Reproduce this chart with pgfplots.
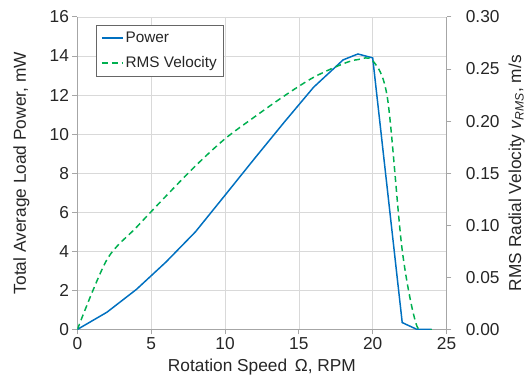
\documentclass[border=0pt]{standalone}
\usepackage{pgfplots}
\pgfplotsset{compat=1.18}
\usepackage{fontspec}
\setmainfont{Liberation Sans}
\definecolor{pblue}{HTML}{0070C0}
\definecolor{vgreen}{HTML}{00B050}
\definecolor{gridc}{HTML}{D9D9D9}
\definecolor{axc}{HTML}{A6A6A6}
\definecolor{txt}{HTML}{262626}
\begin{document}
\begin{tikzpicture}
\pgfplotsset{
  common/.style={
    width=372bp, height=315bp, scale only axis,
    xmin=0, xmax=25,
    font=\fontsize{17.5}{20}\selectfont,
    tick label style={text=txt},
    label style={text=txt},
    /pgf/number format/assume math mode=true,
    tick align=outside,
    major tick length=5bp,
    tick style={axc, line width=0.8pt},
  }
}
\begin{axis}[common,
  axis x line*=bottom, axis y line*=left,
  axis line style={axc, line width=0.8pt, -},
  ymin=0, ymax=16,
  ytick={0,2,...,16}, xtick={0,5,...,25},
  grid=major, grid style={gridc, line width=0.6pt},
  xlabel={Rotation Speed\, Ω, RPM},
  ylabel={Total Average Load Power, mW},
  xlabel style={at={(axis description cs:0.5,-0.12)}, anchor=center},
  ylabel style={at={(axis description cs:-0.152,0.5)}, anchor=center},
  legend style={at={(0.05,0.975)}, anchor=north west, draw=gray!80!black,
    line width=0.6pt, inner xsep=5bp, inner ysep=5bp, row sep=9bp,
    font=\fontsize{15.5}{18}\selectfont, text=txt},
  legend cell align=left,
  legend image code/.code={\draw[#1, line width=1.5pt] (0cm,0cm) -- (0.75cm,0cm);},
]
\addplot[pblue, line width=1.5pt] coordinates {
(0,0) (2,0.88) (4,2.05) (6,3.45) (8,5.0) (10,6.87) (12,8.75) (14,10.6)
(16,12.4) (18,13.8) (19,14.1) (20,13.9) (22,0.35) (23,0) (24,0)};
\addlegendentry{Power}
\addlegendimage{vgreen, line width=1.5pt, dash pattern=on 6bp off 4bp}
\addlegendentry{RMS Velocity}
\end{axis}
\begin{axis}[common,
  axis x line=none, axis y line*=right,
  axis line style={axc, line width=0.8pt, -},
  ymin=0, ymax=0.30,
  ytick={0,0.05,...,0.30},
  yticklabel style={xshift=11bp, /pgf/number format/.cd, fixed, fixed zerofill, precision=2},
  ylabel={RMS Radial Velocity \textit{v}\textsubscript{\textit{RMS}}, m/s},
  ylabel style={at={(axis description cs:1.19,0.5)}, anchor=center, rotate=0},
]
\addplot[vgreen, line width=1.5pt, dash pattern=on 6bp off 4bp, smooth, tension=0.5] coordinates {
(0,0) (2,0.067) (4,0.098) (6,0.128) (8,0.157) (10,0.183) (12,0.204) (14,0.224)
(16,0.242) (18,0.255) (19,0.259) (20,0.258) (21,0.222) (22,0.076) (23,0.003) (24,0)};
\end{axis}
\path (-78bp,-57bp) rectangle (450bp,332bp);
\end{tikzpicture}
\end{document}
